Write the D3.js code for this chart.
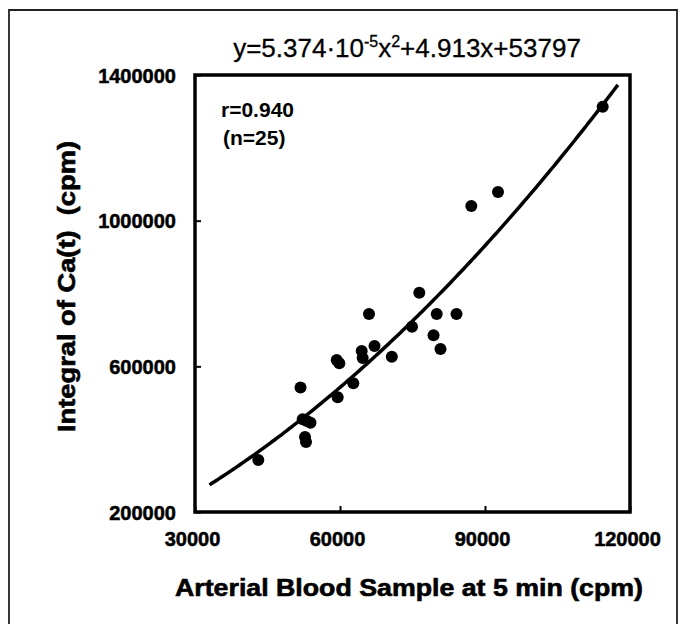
<!DOCTYPE html>
<html><head><meta charset="utf-8">
<script src="https://cdn.jsdelivr.net/npm/d3@7"></script>
<style>body{margin:0;background:#fff}svg{display:block}text{font-family:"Liberation Sans",Arial,sans-serif;fill:#000}</style>
</head><body>
<div id="chart"></div>
<script>
// Data
const xValues = [43100, 51830, 52280, 53170, 53900, 52760, 52970, 59520, 59320, 59860, 62750, 64490, 64700, 66000, 67140, 70720, 74900, 76410, 80010, 79350, 80790, 84100, 87170, 92690, 114350];
const yValues = [342800, 541900, 454600, 449900, 445200, 406000, 392200, 515000, 617400, 608300, 553400, 642100, 622900, 743700, 655800, 626500, 708800, 802200, 743700, 685200, 647600, 743700, 1040300, 1078700, 1313000];
const xTicks = [30000, 60000, 90000, 120000];
const yTicks = [200000, 600000, 1000000, 1400000];
const fitCoef = [5.374e-5, 4.913, 53797]; // a, b, c
const fitRange = [33000, 117800];
const rText = "r=0.940";
const nText = "(n=25)";
const xTitle = "Arterial Blood Sample at 5 min (cpm)";
const yTitle = "Integral of Ca(t)  (cpm)";

const W = 686, H = 624;
const svg = d3.select("#chart").append("svg").attr("width", W).attr("height", H);

// outer frame
svg.append("path").attr("d", "M9,626 L9,10 L677,10 L677,626")
  .attr("fill", "none").attr("stroke", "#222").attr("stroke-width", 1.8);

const x = d3.scaleLinear().domain([30000, 120000]).range([195, 630]);
const y = d3.scaleLinear().domain([200000, 1400000]).range([512, 75]);

// title equation
const t = svg.append("text").attr("x", 407).attr("y", 57).attr("text-anchor", "middle")
  .style("font-size", "26px").style("stroke", "#000").style("stroke-width", 0.3);
t.append("tspan").text("y=5.374·10");
t.append("tspan").attr("dy", -10).style("font-size", "16px").text("-5");
t.append("tspan").attr("dy", 10).text("x");
t.append("tspan").attr("dy", -10).style("font-size", "16px").text("2");
t.append("tspan").attr("dy", 10).text("+4.913x+53797");

// axes (ticks inward)
const gx = svg.append("g").attr("transform", `translate(0,${y.range()[0]})`)
  .call(d3.axisBottom(x).tickValues(xTicks).tickSize(-6).tickFormat(d3.format("d")).tickPadding(0));
gx.select(".domain").remove();
gx.selectAll("line").attr("stroke-width", 2);
gx.selectAll("text").attr("y", 34).attr("dy", 0).attr("dx", -3)
  .style("font-size", "20px").style("font-weight", "bold").style("stroke", "#000").style("stroke-width", 0.5)
  .style("font-family", '"Liberation Sans",Arial,sans-serif');

const gy = svg.append("g").attr("transform", `translate(${x.range()[0]},0)`)
  .call(d3.axisLeft(y).tickValues(yTicks).tickSize(-6).tickFormat(d3.format("d")));
gy.select(".domain").remove();
gy.selectAll("line").attr("stroke-width", 2);
gy.selectAll("text").attr("x", -19).attr("dy", "0.36em")
  .style("font-size", "20px").style("font-weight", "bold").style("stroke", "#000").style("stroke-width", 0.5)
  .style("font-family", '"Liberation Sans",Arial,sans-serif');

// plot frame
svg.append("rect").attr("x", x.range()[0]).attr("y", y.range()[1])
  .attr("width", x.range()[1] - x.range()[0]).attr("height", y.range()[0] - y.range()[1])
  .attr("fill", "none").attr("stroke", "#000").attr("stroke-width", 3.5);

// fit curve
const fx = d3.range(fitRange[0], fitRange[1] + 1, 500);
const fit = v => fitCoef[0] * v * v + fitCoef[1] * v + fitCoef[2];
svg.append("path").datum(fx)
  .attr("d", d3.line().x(d => x(d)).y(d => y(fit(d))))
  .attr("fill", "none").attr("stroke", "#000").attr("stroke-width", 3.5);

// points
svg.append("g").selectAll("circle").data(xValues.map((v, i) => [v, yValues[i]]))
  .join("circle").attr("cx", d => x(d[0])).attr("cy", d => y(d[1])).attr("r", 6).attr("fill", "#000");

// annotations
svg.append("text").attr("x", 221).attr("y", 117).style("font-size", "21px").style("font-weight", "bold").text(rText);
svg.append("text").attr("x", 223).attr("y", 145).style("font-size", "21px").style("font-weight", "bold").text(nText);

// axis titles
svg.append("text").attr("x", 175).attr("y", 596)
  .attr("textLength", 468).attr("lengthAdjust", "spacingAndGlyphs")
  .style("font-size", "23px").style("font-weight", "bold").style("stroke", "#000").style("stroke-width", 0.6)
  .text(xTitle);
svg.append("text").attr("transform", "translate(75,432) rotate(-90)")
  .attr("textLength", 291).attr("lengthAdjust", "spacingAndGlyphs")
  .style("white-space", "pre")
  .style("font-size", "23px").style("font-weight", "bold").style("stroke", "#000").style("stroke-width", 0.6)
  .text(yTitle);
</script>
</body></html>
